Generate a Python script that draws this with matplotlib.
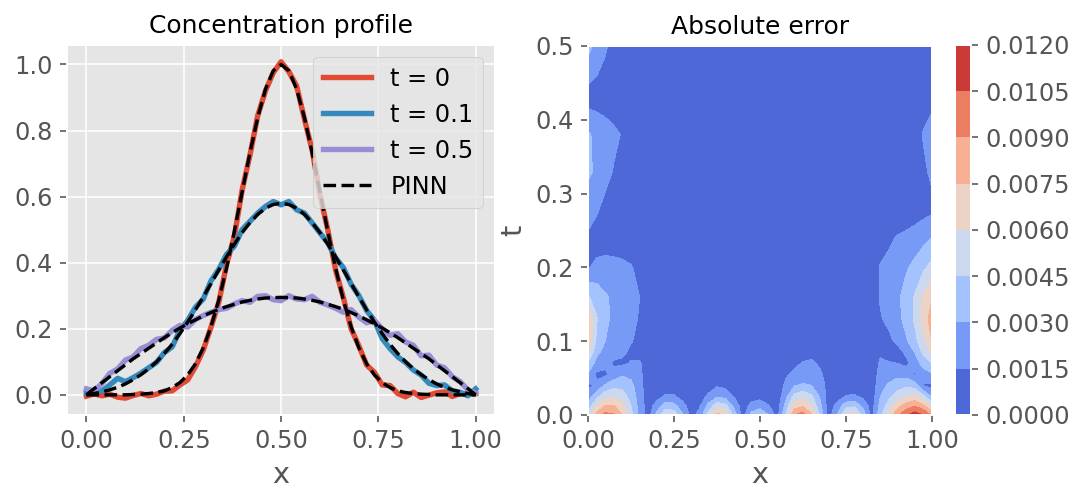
import numpy as np
import matplotlib.pyplot as plt

plt.style.use('ggplot')
plt.rcParams['font.size'] = 12

# concentration profiles, x = 0 .. 1 in steps of 0.02
x = np.linspace(0, 1, 51)
c_t0 = [-0.004, 0.003, -0.003, 0.002, -0.007, -0.010, -0.002, 0.004, -0.003, 0.002,
        0.011, 0.012, 0.030, 0.045, 0.085, 0.135, 0.205, 0.280, 0.395, 0.480,
        0.620, 0.725, 0.845, 0.920, 0.975, 1.008, 0.978, 0.935, 0.835, 0.740,
        0.605, 0.500, 0.378, 0.295, 0.200, 0.148, 0.090, 0.068, 0.030, 0.028,
        0.004, -0.006, 0.008, -0.008, -0.001, 0.006, 0.009, -0.005, 0.004, 0.001, 0.004]
c_t01 = [0.005, 0.010, 0.012, 0.030, 0.050, 0.040, 0.052, 0.066, 0.082, 0.098,
         0.128, 0.145, 0.195, 0.225, 0.265, 0.290, 0.345, 0.380, 0.425, 0.450,
         0.500, 0.525, 0.550, 0.570, 0.585, 0.575, 0.585, 0.560, 0.550, 0.520,
         0.490, 0.460, 0.415, 0.385, 0.335, 0.300, 0.255, 0.225, 0.170, 0.140,
         0.115, 0.098, 0.075, 0.060, 0.035, 0.028, 0.030, 0.012, 0.008, -0.003, 0.018]
c_t05 = [0.018, 0.012, 0.035, 0.065, 0.078, 0.105, 0.115, 0.140, 0.150, 0.168,
         0.172, 0.195, 0.210, 0.205, 0.228, 0.240, 0.250, 0.258, 0.262, 0.275,
         0.285, 0.280, 0.298, 0.300, 0.288, 0.285, 0.300, 0.290, 0.288, 0.298,
         0.280, 0.272, 0.262, 0.250, 0.258, 0.235, 0.218, 0.225, 0.200, 0.180,
         0.185, 0.160, 0.150, 0.118, 0.120, 0.090, 0.082, 0.055, 0.040, 0.015, 0.005]

pinn_t0 = [0.000, 0.000, 0.000, 0.000, 0.000, 0.000, 0.001, 0.002, 0.004, 0.007,
           0.012, 0.022, 0.037, 0.060, 0.094, 0.142, 0.206, 0.287, 0.384, 0.495,
           0.614, 0.732, 0.839, 0.925, 0.981, 1.000, 0.981, 0.925, 0.839, 0.732,
           0.614, 0.495, 0.384, 0.287, 0.206, 0.142, 0.094, 0.060, 0.037, 0.022,
           0.012, 0.007, 0.004, 0.002, 0.001, 0.000, 0.000, 0.000, 0.000, 0.000, 0.000]
pinn_t01 = [0.000, 0.004, 0.009, 0.015, 0.023, 0.033, 0.046, 0.061, 0.079, 0.100,
            0.125, 0.153, 0.185, 0.220, 0.257, 0.296, 0.337, 0.378, 0.418, 0.456,
            0.491, 0.521, 0.546, 0.565, 0.576, 0.580, 0.576, 0.565, 0.546, 0.521,
            0.491, 0.456, 0.418, 0.378, 0.337, 0.296, 0.257, 0.220, 0.185, 0.153,
            0.125, 0.100, 0.079, 0.061, 0.046, 0.033, 0.023, 0.015, 0.009, 0.004, 0.000]
pinn_t05 = [0.000, 0.019, 0.037, 0.055, 0.073, 0.091, 0.109, 0.125, 0.141, 0.157,
            0.173, 0.188, 0.202, 0.215, 0.227, 0.239, 0.249, 0.259, 0.267, 0.274,
            0.281, 0.286, 0.290, 0.293, 0.294, 0.295, 0.294, 0.293, 0.290, 0.286,
            0.281, 0.274, 0.267, 0.259, 0.249, 0.239, 0.227, 0.215, 0.202, 0.188,
            0.173, 0.157, 0.141, 0.125, 0.109, 0.091, 0.073, 0.055, 0.037, 0.019, 0.000]

# absolute error, units of 1e-4
# columns: x = 0 .. 1 in steps of 0.025, one row per t value
err_x = np.linspace(0, 1, 41)
err_t = [0, 0.012, 0.025, 0.04, 0.055, 0.07, 0.085, 0.10, 0.13, 0.16,
         0.20, 0.24, 0.28, 0.33, 0.38, 0.43, 0.50]
err_rows = [
    [50, 80, 95, 92, 75, 50, 25, 8, 35, 58, 55, 32, 10, 20, 50, 80, 72, 38, 8, 35, 45, 30, 8, 45, 90, 97, 78, 42, 8, 30, 62, 66, 40, 8, 40, 65, 88, 102, 113, 105, 88],
    [35, 62, 76, 76, 64, 45, 24, 7, 22, 38, 36, 20, 8, 14, 35, 55, 50, 26, 7, 20, 24, 16, 7, 35, 68, 73, 60, 34, 7, 20, 40, 43, 26, 8, 35, 52, 70, 82, 90, 80, 58],
    [22, 40, 55, 58, 52, 40, 22, 6, 10, 17, 17, 10, 6, 8, 18, 28, 25, 14, 6, 8, 10, 8, 6, 25, 50, 57, 48, 28, 6, 9, 16, 17, 12, 6, 30, 42, 52, 60, 64, 50, 28],
    [11, 18, 32, 40, 40, 34, 21, 5, 5, 6, 6, 5, 5, 5, 8, 13, 11, 6, 5, 5, 5, 5, 5, 18, 29, 32, 30, 24, 8, 6, 6, 6, 5, 5, 25, 32, 38, 42, 38, 14, 11],
    [28, 12, 12, 20, 28, 26, 19, 5, 5, 5, 5, 5, 5, 5, 5, 5, 5, 5, 5, 5, 5, 5, 5, 13, 18, 21, 22, 18, 6, 5, 5, 5, 5, 5, 21, 24, 26, 24, 13, 22, 28],
    [44, 24, 19, 13, 12, 16, 17, 5, 5, 5, 5, 5, 5, 5, 5, 5, 5, 5, 5, 5, 5, 5, 5, 8, 12, 16, 18, 12, 5, 5, 5, 5, 5, 5, 17, 16, 15, 11, 22, 36, 45],
    [62, 34, 25, 20, 18, 12, 9, 5, 5, 5, 5, 5, 5, 5, 5, 5, 5, 5, 5, 5, 5, 5, 5, 5, 6, 8, 10, 6, 5, 5, 5, 5, 5, 5, 13, 9, 9, 18, 30, 48, 62],
    [72, 42, 30, 24, 20, 16, 11, 5, 5, 5, 5, 5, 5, 5, 5, 5, 5, 5, 5, 5, 5, 5, 5, 5, 5, 5, 5, 5, 5, 5, 5, 5, 5, 5, 8, 12, 18, 28, 40, 55, 75],
    [78, 46, 33, 27, 22, 18, 14, 6, 5, 5, 5, 5, 5, 5, 5, 5, 5, 5, 5, 5, 5, 5, 5, 5, 5, 5, 5, 5, 5, 5, 5, 5, 5, 8, 14, 18, 25, 35, 47, 66, 82],
    [46, 40, 32, 27, 22, 19, 15, 6, 5, 5, 5, 5, 5, 5, 5, 5, 5, 5, 5, 5, 5, 5, 5, 5, 5, 5, 5, 5, 5, 5, 5, 5, 5, 9, 16, 20, 27, 36, 46, 62, 74],
    [14, 18, 19, 19, 18, 16, 11, 5, 5, 5, 5, 5, 5, 5, 5, 5, 5, 5, 5, 5, 5, 5, 5, 5, 5, 5, 5, 5, 5, 5, 5, 5, 5, 9, 16, 18, 22, 28, 34, 42, 50],
    [13, 9, 9, 8, 7, 6, 5, 5, 5, 5, 5, 5, 5, 5, 5, 5, 5, 5, 5, 5, 5, 5, 5, 5, 5, 5, 5, 5, 5, 5, 5, 5, 5, 5, 8, 13, 16, 18, 21, 25, 30],
    [21, 17, 11, 7, 5, 5, 5, 5, 5, 5, 5, 5, 5, 5, 5, 5, 5, 5, 5, 5, 5, 5, 5, 5, 5, 5, 5, 5, 5, 5, 5, 5, 5, 5, 5, 5, 5, 6, 7, 9, 11],
    [33, 27, 20, 14, 8, 5, 5, 5, 5, 5, 5, 5, 5, 5, 5, 5, 5, 5, 5, 5, 5, 5, 5, 5, 5, 5, 5, 5, 5, 5, 5, 5, 5, 5, 5, 5, 5, 5, 5, 12, 18],
    [32, 26, 22, 18, 14, 8, 5, 5, 5, 5, 5, 5, 5, 5, 5, 5, 5, 5, 5, 5, 5, 5, 5, 5, 5, 5, 5, 5, 5, 5, 5, 5, 5, 5, 5, 5, 5, 5, 8, 16, 22],
    [8, 8, 7, 6, 5, 5, 5, 5, 5, 5, 5, 5, 5, 5, 5, 5, 5, 5, 5, 5, 5, 5, 5, 5, 5, 5, 5, 5, 5, 5, 5, 5, 5, 5, 5, 5, 5, 5, 5, 8, 10],
    [35, 25, 17, 10, 6, 5, 5, 5, 5, 5, 5, 5, 5, 5, 5, 5, 5, 5, 5, 5, 5, 5, 5, 5, 5, 5, 5, 5, 5, 5, 5, 5, 5, 5, 5, 5, 5, 5, 5, 5, 5],
]
levels = [0, 0.0015, 0.003, 0.0045, 0.006, 0.0075, 0.009, 0.0105, 0.012]
x_ticks = [0, 0.25, 0.5, 0.75, 1.0]

fig = plt.figure(figsize=(1081 / 144, 494 / 144))

# left: data vs PINN
ax1 = fig.add_axes([0.062, 0.160, 0.396, 0.749])
ax1.plot(x, c_t0, lw=2.7, label='t = 0')
ax1.plot(x, c_t01, lw=2.7, label='t = 0.1')
ax1.plot(x, c_t05, lw=2.7, label='t = 0.5')
ax1.plot(x, pinn_t0, 'k--', lw=1.7, label='PINN')
ax1.plot(x, pinn_t01, 'k--', lw=1.7)
ax1.plot(x, pinn_t05, 'k--', lw=1.7)
ax1.set_xticks(x_ticks)
ax1.set_title('Concentration profile', fontsize=12.5)
ax1.set_xlabel('x')
ax1.legend(loc='upper right')

# right: error map
ax2 = fig.add_axes([0.544, 0.160, 0.318, 0.747])
err = np.array(err_rows) * 1e-4
cs = ax2.contourf(err_x, err_t, err, levels=levels, cmap='coolwarm')
ax2.set_xticks(x_ticks)
ax2.set_title('Absolute error', fontsize=12.5)
ax2.set_xlabel('x')
ax2.set_ylabel('t')

cax = fig.add_axes([0.8834, 0.160, 0.0148, 0.749])
cb = fig.colorbar(cs, cax=cax, format='%.4f')
cb.set_ticks(levels)

fig.savefig('out.png', dpi=144)
